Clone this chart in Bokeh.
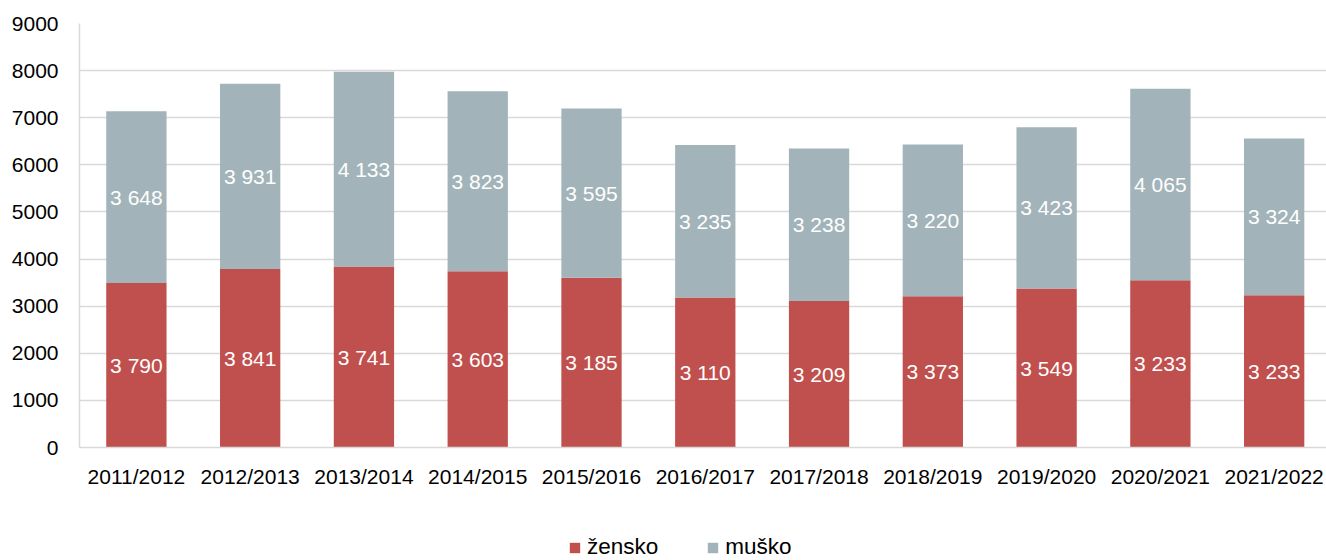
from bokeh.plotting import figure
from bokeh.models import ColumnDataSource, FixedTicker, Legend, LegendItem, Range1d
from bokeh.layouts import column
from bokeh.embed import file_html
from bokeh.resources import INLINE
from bokeh.core.properties import value

years = ["2011/2012", "2012/2013", "2013/2014", "2014/2015", "2015/2016", "2016/2017",
         "2017/2018", "2018/2019", "2019/2020", "2020/2021", "2021/2022"]
zensko = [3490, 3790, 3841, 3741, 3603, 3185, 3110, 3209, 3373, 3549, 3233]
zensko_labels = [3790, 3841, 3741, 3603, 3185, 3110, 3209, 3373, 3549, 3233, 3233]
musko = [3648, 3931, 4133, 3823, 3595, 3235, 3238, 3220, 3423, 4065, 3324]
y_ticks = [0, 1000, 2000, 3000, 4000, 5000, 6000, 7000, 8000, 9000]
series_names = ["žensko", "muško"]

RED = "#C0504D"
GREY = "#A2B4BA"
FONT = "Liberation Sans"
FS = "21px"

def fmt(v):
    return f"{v:,}".replace(",", " ")

x = list(range(len(years)))
src = ColumnDataSource(dict(
    x=x,
    z=zensko,
    m_top=[a + b for a, b in zip(zensko, musko)],
    z_mid=[a / 2 for a in zensko],
    m_mid=[a + b / 2 for a, b in zip(zensko, musko)],
    z_txt=[fmt(v) for v in zensko_labels],
    m_txt=[fmt(v) for v in musko],
))

# frame 1247 px wide -> 113.77 px per category
p = figure(frame_width=1247, frame_height=424, output_backend="svg", toolbar_location=None,
           x_range=Range1d(-0.5, 10.46), y_range=Range1d(0, 9000),
           min_border_left=79, min_border_right=0, min_border_top=23, min_border_bottom=60)
p.outline_line_color = None

rz = p.vbar(x="x", top="z", bottom=0, width=0.53, source=src, fill_color=RED, line_color=None)
rm = p.vbar(x="x", top="m_top", bottom="z", width=0.53, source=src, fill_color=GREY, line_color=None)

p.text(x="x", y="z_mid", text="z_txt", source=src, text_color="white",
       text_font=value(FONT), text_font_size=FS, text_align="center", text_baseline="middle")
p.text(x="x", y="m_mid", text="m_txt", source=src, text_color="white",
       text_font=value(FONT), text_font_size=FS, text_align="center", text_baseline="middle")

# axes
p.xaxis.ticker = FixedTicker(ticks=x)
p.xaxis.major_label_overrides = {i: y for i, y in enumerate(years)}
p.xaxis.major_tick_line_color = None
p.xaxis.minor_tick_line_color = None
p.xaxis.axis_line_color = "#D9D9D9"
p.xaxis.axis_line_width = 1.5
p.xaxis.major_label_text_font = FONT
p.xaxis.major_label_text_font_size = FS
p.xaxis.major_label_text_color = "black"
p.xaxis.major_label_standoff = 11

p.yaxis.ticker = FixedTicker(ticks=y_ticks)
p.yaxis.major_label_overrides = {t: str(t) for t in y_ticks}
p.yaxis.major_tick_line_color = None
p.yaxis.minor_tick_line_color = None
p.yaxis.axis_line_color = "#D9D9D9"
p.yaxis.axis_line_width = 1.5
p.yaxis.major_label_text_font = FONT
p.yaxis.major_label_text_font_size = FS
p.yaxis.major_label_text_color = "black"
p.yaxis.major_label_standoff = 15

p.xgrid.grid_line_color = None
p.ygrid.grid_line_color = "#D9D9D9"
p.ygrid.grid_line_width = 1.5

# legend strip below the chart (zero-size proxy bars carry the legend colours)
lg = figure(width=1326, height=53, output_backend="svg", toolbar_location=None,
            x_range=Range1d(0, 1), y_range=Range1d(0, 1),
            x_axis_type=None, y_axis_type=None, min_border=0)
lg.outline_line_color = None
lg.grid.visible = False
dz = lg.vbar(x=[0], top=[0], bottom=0, width=0, fill_color=RED, line_color=None)
dm = lg.vbar(x=[0], top=[0], bottom=0, width=0, fill_color=GREY, line_color=None)
legend = Legend(items=[LegendItem(label=series_names[0], renderers=[dz]),
                       LegendItem(label=series_names[1], renderers=[dm])],
                orientation="horizontal", location=(489, 0),
                label_text_font=FONT, label_text_font_size="22.5px",
                label_text_color="black", label_height=20,
                glyph_width=13, glyph_height=13, label_standoff=6, spacing=48,
                border_line_color=None, background_fill_alpha=0,
                margin=0, padding=0)
lg.add_layout(legend, "center")

layout = column(p, lg, spacing=0)
open("out.html", "w").write(file_html(layout, INLINE))
